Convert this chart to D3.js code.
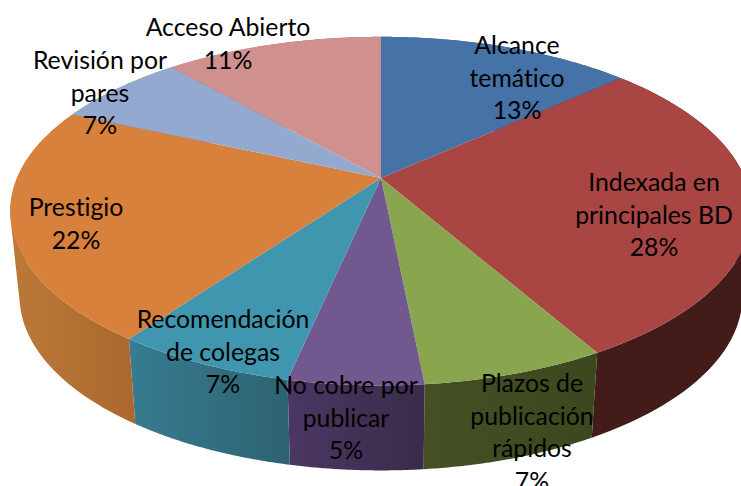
<!DOCTYPE html>
<html>
<head>
<meta charset="utf-8">
<script src="https://cdn.jsdelivr.net/npm/d3@7"></script>
<style>
  html, body { margin: 0; padding: 0; background: #fff; overflow: hidden; }
  svg { display: block; }
  text { font-family: Lato, "Open Sans", sans-serif; fill: #000; font-variant-ligatures: none; }
</style>
</head>
<body>
<svg></svg>
<script>
const categories = [
  ["Alcance", "temático"],
  ["Indexada en", "principales BD"],
  ["Plazos de", "publicación", "rápidos"],
  ["No cobre por", "publicar"],
  ["Recomendación", "de colegas"],
  ["Prestigio"],
  ["Revisión por", "pares"],
  ["Acceso Abierto"]
];
// shares estimated from the slice boundaries, labels show them rounded
const shares = [13.3, 28.4, 6.7, 4.9, 6.6, 21.7, 6.9, 11.4];
const topColors = ["#4572a7", "#a94543", "#89a54e", "#71588f", "#4096ae", "#d8813c", "#93a9cf", "#cf908e"];
const wallLeft = ["#2f4b6e", "#431b18", "#454f24", "#4a3763", "#377c91", "#bb7a39", "#6f80a0", "#a06f6d"];
const wallRight = ["#2f4b6e", "#431b18", "#3b481d", "#3a2b4a", "#2d6270", "#ab672d", "#6f80a0", "#a06f6d"];

const width = 741;
const height = 486;
const svg = d3.select("svg").attr("width", width).attr("height", height);

// vista en perspectiva del disco
const center = { x: 381, y: 178 };
const tilt = 0.19;
const radiusX = 364;
const radiusY = 168;
const wallDepth = 85;
const wallShrink = 0.975;

const project = (angle) => {
  const w = 1 + tilt * Math.cos(angle);
  return [
    center.x + (radiusX * Math.sin(angle)) / w,
    center.y - (radiusY * Math.cos(angle)) / w
  ];
};
const projectBottom = (angle) => {
  const [x, y] = project(angle);
  return [center.x + (x - center.x) * wallShrink, y + wallDepth];
};

const arcs = d3.pie().sort(null).value((d) => d)(shares);
const line = d3.line();
const sample = (a) => d3.range(0, 61).map((i) => a.startAngle + ((a.endAngle - a.startAngle) * i) / 60);

const defs = svg.append("defs");
arcs.forEach((a, i) => {
  const grad = defs.append("linearGradient").attr("id", `wall${i}`);
  grad.append("stop").attr("offset", 0).attr("stop-color", wallLeft[i]);
  grad.append("stop").attr("offset", 1).attr("stop-color", wallRight[i]);
});

// paredes: tiras con el mismo sentido para que no se cancelen
const wallPath = (d) => {
  const angles = sample(d);
  return d3.pairs(angles).map(([a0, a1]) => {
    const quad = [project(a0), project(a1), projectBottom(a1), projectBottom(a0)];
    if (d3.polygonArea(quad) < 0) quad.reverse();
    return line(quad) + "Z";
  }).join("");
};

svg.selectAll(".wall")
  .data(arcs)
  .join("path")
  .attr("class", "wall")
  .attr("fill", (d, i) => `url(#wall${i})`)
  .attr("d", wallPath);

// cara superior
svg.selectAll(".slice")
  .data(arcs)
  .join("path")
  .attr("class", "slice")
  .attr("fill", (d, i) => topColors[i])
  .attr("d", (d) => line([[center.x, center.y]].concat(sample(d).map(project))) + "Z");

// etiquetas
const labelSpots = [
  [517, 54], [654, 191], [532, 392], [346, 394],
  [223, 328], [76, 216], [100, 69], [228, 36]
];
const pitch = 32.6;
const percent = d3.format(".0f");

categories.forEach((lines, i) => {
  const text = svg.append("text")
    .attr("text-anchor", "middle")
    .style("font-size", "24.8px");
  lines.concat(`${percent(shares[i])}%`).forEach((t, j) => {
    text.append("tspan")
      .attr("x", labelSpots[i][0])
      .attr("y", labelSpots[i][1] + j * pitch)
      .text(t);
  });
});
</script>
</body>
</html>
